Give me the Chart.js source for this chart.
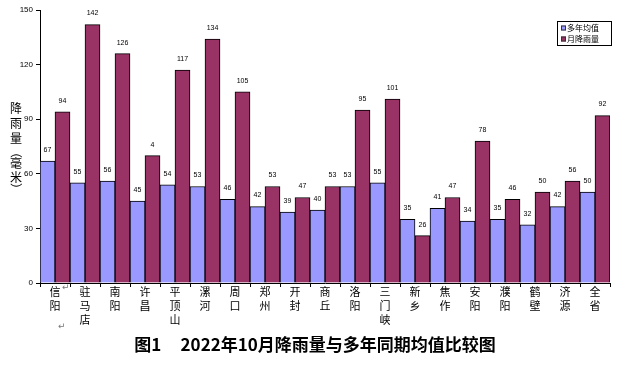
<!DOCTYPE html>
<html>
<head>
<meta charset="utf-8">
<script src="https://cdn.jsdelivr.net/npm/chart.js@4/dist/chart.umd.min.js"></script>
<style>
  body { margin: 0; background: #fff; }
</style>
</head>
<body>
<canvas id="c" width="627" height="368"></canvas>
<script>
const cities = ["信阳", "驻马店", "南阳", "许昌", "平顶山", "漯河", "周口", "郑州", "开封", "商丘",
                "洛阳", "三门峡", "新乡", "焦作", "安阳", "濮阳", "鹤壁", "济源", "全省"];
const avgRain = [67, 55, 56, 45, 54, 53, 46, 42, 39, 40, 53, 55, 35, 41, 34, 35, 32, 42, 50];
const octRain = [94, 142, 126, 70, 117, 134, 105, 53, 47, 53, 95, 101, 26, 47, 78, 46, 50, 56, 92];
// label texts as printed on the picture (许昌 shows only "4")
const avgText = avgRain.map(String);
const octText = ["94", "142", "126", "4", "117", "134", "105", "53", "47", "53", "95", "101", "26", "47", "78", "46", "50", "56", "92"];
const yTicks = [0, 30, 60, 90, 120, 150];
const chartTitle = "图1     2022年10月降雨量与多年同期均值比较图";

const CJK = "'Noto Sans CJK SC', 'Noto Sans', sans-serif";
const C = {
    blue: "#9999FF",
    red:  "#993366",
    line: "#000000",
};

const barLabels = {
    id: "barLabels",
    afterDatasetsDraw(chart) {
        const ctx = chart.ctx;
        const texts = [avgText, octText];
        ctx.save();
        ctx.font = "7px 'Liberation Sans', Arial, sans-serif";
        ctx.fillStyle = "#000";
        ctx.textAlign = "center";
        ctx.textBaseline = "middle";
        chart.data.datasets.forEach((ds, i) => {
            chart.getDatasetMeta(i).data.forEach((bar, j) => {
                ctx.fillText(texts[i][j], bar.x, bar.y - 11);
            });
        });
        ctx.restore();
    }
};

const extras = {
    id: "extras",
    afterDraw(chart) {
        const ctx = chart.ctx;
        ctx.save();
        // vertical axis title, one character per line, brackets turned
        ctx.fillStyle = "#000";
        ctx.textAlign = "center";
        ctx.textBaseline = "middle";
        ctx.font = "12px " + CJK;
        const chars = [["降", 108, false], ["雨", 123, false], ["量", 138, false], ["（", 152, true],
                       ["毫", 163, false], ["米", 177, false], ["）", 189, true]];
        chars.forEach(([t, y, turn]) => {
            if (turn) {
                ctx.save();
                ctx.translate(16, y);
                ctx.rotate(Math.PI / 2);
                ctx.fillText(t, 0, 0);
                ctx.restore();
            } else {
                ctx.fillText(t, 16, y);
            }
        });

        // caption under the chart
        ctx.font = "bold 17px " + CJK;
        ctx.fillText(chartTitle, 315, 345);

        // legend box
        ctx.strokeStyle = "#000";
        ctx.lineWidth = 1;
        ctx.strokeRect(557.5, 21.5, 54, 24);
        const items = [["多年均值", C.blue, 28], ["月降雨量", C.red, 39]];
        ctx.font = "8px " + CJK;
        ctx.textAlign = "left";
        items.forEach(([t, col, y]) => {
            ctx.fillStyle = col;
            ctx.fillRect(561, y - 2.5, 5, 5);
            ctx.strokeStyle = "#333";
            ctx.strokeRect(561.5, y - 2, 4, 4);
            ctx.fillStyle = "#000";
            ctx.fillText(t, 567, y);
        });

        // stray paragraph marks
        ctx.fillStyle = "#777";
        ctx.font = "9px 'DejaVu Sans', sans-serif";
        ctx.fillText("↵", 62, 288);
        ctx.fillText("↵", 58, 327);
        ctx.restore();
    }
};

new Chart(document.getElementById("c"), {
    type: "bar",
    data: {
        labels: cities.map(s => s.split("")),
        datasets: [
            {
                label: "多年均值",
                data: avgRain,
                backgroundColor: C.blue,
                borderColor: C.line,
                borderWidth: 1,
                categoryPercentage: 1,
                barPercentage: 1,
            },
            {
                label: "月降雨量",
                data: octRain,
                backgroundColor: C.red,
                borderColor: C.line,
                borderWidth: 1,
                categoryPercentage: 1,
                barPercentage: 1,
            },
        ],
    },
    options: {
        responsive: false,
        animation: false,
        layout: { padding: { left: 0, right: 17, top: 10, bottom: 35 } },
        plugins: {
            legend: { display: false },
            tooltip: { enabled: false },
            title: { display: false },
        },
        scales: {
            x: {
                afterFit: s => { s.height = 50; },
                border: { display: true, color: C.line, width: 1 },
                grid: { display: true, drawOnChartArea: false, offset: true, tickLength: 4, color: C.line },
                ticks: {
                    color: "#000",
                    font: { size: 11, family: CJK, lineHeight: 1.25 },
                    maxRotation: 0,
                    autoSkip: false,
                    padding: -2,
                },
            },
            y: {
                min: 0,
                max: 150,
                afterFit: s => { s.width = 40; },
                afterBuildTicks: s => { s.ticks = yTicks.map(v => ({ value: v })); },
                border: { display: true, color: C.line, width: 1 },
                grid: { display: true, drawOnChartArea: false, tickLength: 4, color: C.line },
                ticks: {
                    color: "#000",
                    font: { size: 8, family: "'Liberation Sans', Arial, sans-serif" },
                    padding: 3,
                },
            },
        },
    },
    plugins: [barLabels, extras],
});
</script>
</body>
</html>
